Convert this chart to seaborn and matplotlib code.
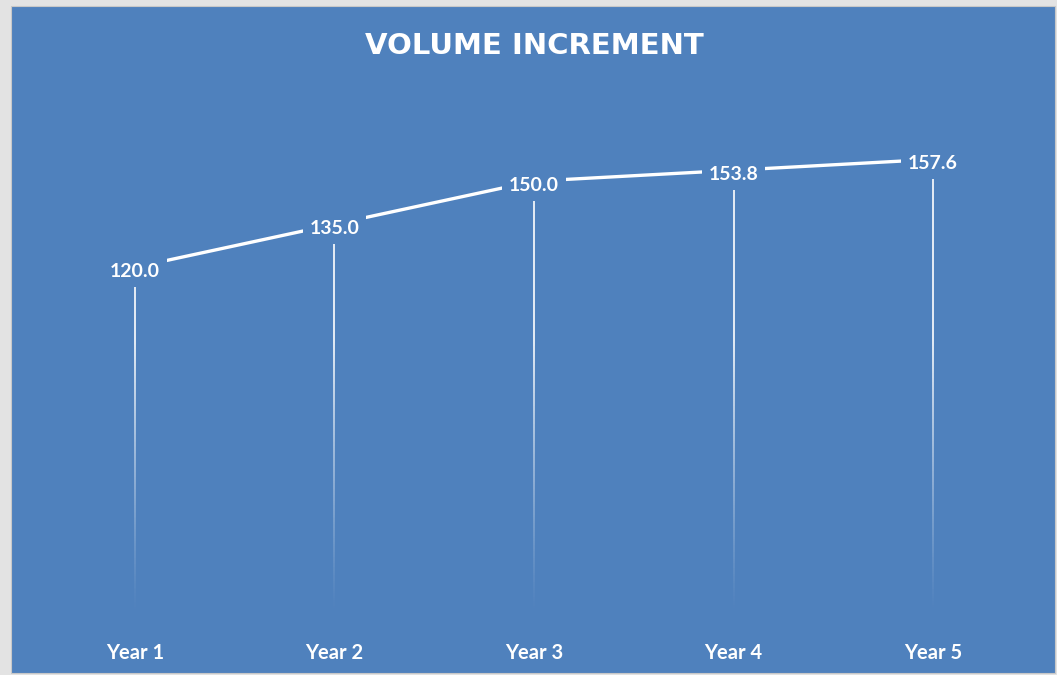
import numpy as np
import pandas as pd
import matplotlib
matplotlib.use("Agg")
import matplotlib.pyplot as plt
from matplotlib.patches import Rectangle
from matplotlib.collections import LineCollection
import seaborn as sns

categories = ["Year 1", "Year 2", "Year 3", "Year 4", "Year 5"]
values = [120.0, 135.0, 150.0, 153.8, 157.6]
title = "VOLUME INCREMENT"

BLUE = "#4F81BD"
W, H = 1057, 675

sns.set_theme(style="white")
plt.rcParams["font.family"] = ["Lato", "DejaVu Sans"]

fig = plt.figure(figsize=(W / 100, H / 100), dpi=100, facecolor="#E3E3E3")
fig.patches.append(Rectangle((11 / W, 2 / H), (1055 - 11) / W, (669 - 2) / H,
                             transform=fig.transFigure, facecolor=BLUE,
                             edgecolor="#C8C8C8", linewidth=0.8, zorder=-5))

left_px, right_px = 35, 1033
bottom_px, top_px = 612, 95
ax = fig.add_axes([left_px / W, 1 - bottom_px / H,
                   (right_px - left_px) / W, (bottom_px - top_px) / H])
ax.set_facecolor("none")
ax.set_zorder(2)

df = pd.DataFrame({"cat": categories, "val": values})
xs = np.arange(len(categories))

# gradient drop lines
for x, v in zip(xs, values):
    ys = np.linspace(0, v, 200)
    segs = [[(x, ys[i]), (x, ys[i + 1])] for i in range(len(ys) - 1)]
    mids = (ys[:-1] + ys[1:]) / 2
    alphas = np.clip(mids / 95.0, 0, 1) ** 1.2
    cols = [(1, 1, 1, a) for a in alphas]
    ax.add_collection(LineCollection(segs, colors=cols, linewidths=1.2, zorder=1))

sns.lineplot(data=df, x="cat", y="val", ax=ax, color="white", linewidth=2.4,
             sort=False, zorder=2)

for x, v in zip(xs, values):
    ax.annotate(f"{v:.1f}", (x, v), xytext=(0, -3), textcoords="offset points",
                ha="center", va="center", color="white",
                fontsize=14, fontweight="bold", zorder=4,
                bbox=dict(boxstyle="square,pad=0.35", facecolor=BLUE, edgecolor="none"))

ax.set_xlim(-0.5, len(categories) - 0.5)
ax.set_ylim(0, 180)
ax.set_xticks(xs)
ax.set_xticklabels(categories, color="white", fontsize=14.5, fontweight="bold")
ax.tick_params(axis="x", length=0, pad=22)
ax.set_yticks([])
ax.set_xlabel("")
ax.set_ylabel("")
for s in ax.spines.values():
    s.set_visible(False)

fig.text(534 / W, 1 - 46 / H, title, ha="center", va="center", color="white",
         fontsize=21, fontweight="bold", family=["DejaVu Sans"])

fig.savefig("out.png", dpi=100, facecolor=fig.get_facecolor())
